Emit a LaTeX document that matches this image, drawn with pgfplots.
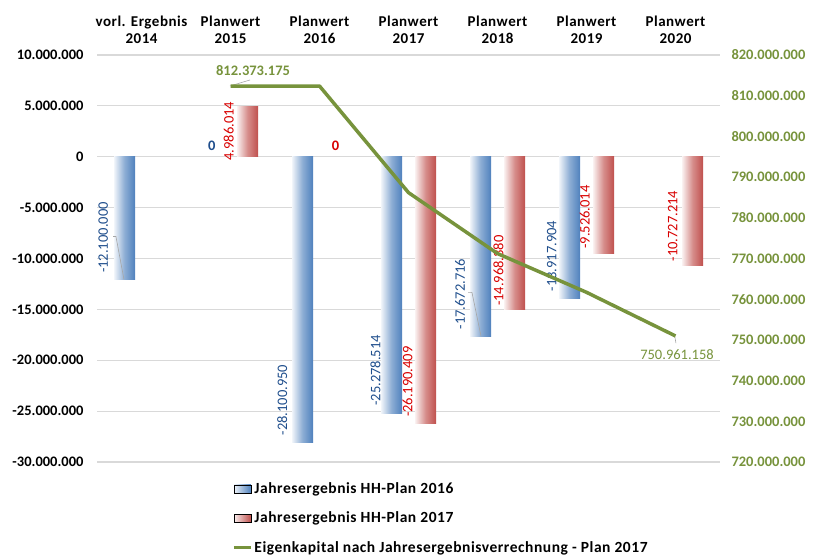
\documentclass[border=0pt]{standalone}
\usepackage{pgfplots}
\pgfplotsset{compat=1.18}
\usepackage{fontspec}
\setmainfont{Carlito}
\newfontfamily\wide[LetterSpace=3.5]{Carlito}
\definecolor{exblue}{HTML}{4F81BD}
\definecolor{exred}{HTML}{C0504D}
\definecolor{exgreen}{HTML}{77933C}
\definecolor{lblblue}{HTML}{1F4E8C}
\definecolor{lblred}{HTML}{D80000}
\definecolor{gridgray}{HTML}{D9D9D9}
\newcommand{\fs}{\fontsize{14.5}{16}\selectfont}
\pgfplotsset{
  bbar/.style={forget plot, ybar, bar width=21pt, bar shift=-17pt, draw=none,
    left color=exblue!8!white, right color=exblue, middle color=exblue!65!white},
  rbar/.style={forget plot, ybar, bar width=21pt, bar shift=17pt, draw=none,
    left color=exred!8!white, right color=exred, middle color=exred!65!white},
}
\begin{document}
\begin{tikzpicture}
\useasboundingbox (0,0) rectangle (813pt,556pt);
\begin{axis}[
  at={(97pt,94pt)}, anchor=south west,
  scale only axis, width=623pt, height=407pt,
  xmin=-0.5, xmax=6.5, ymin=-30000000, ymax=10000000,
  axis line style={draw=none},
  major tick length=0pt,
  scaled y ticks=false,
  xtick={0,1,2,3,4,5,6},
  xticklabels={vorl. Ergebnis\\2014, Planwert\\2015, Planwert\\2016, Planwert\\2017, Planwert\\2018, Planwert\\2019, Planwert\\2020},
  xticklabel pos=upper,
  xticklabel style={align=center, font=\wide\fontsize{15}{16.5}\selectfont\bfseries, yshift=8pt},
  ytick={-30000000,-25000000,-20000000,-15000000,-10000000,-5000000,0,5000000,10000000},
  yticklabels={-30.000.000,-25.000.000,-20.000.000,-15.000.000,-10.000.000,-5.000.000,0,5.000.000,10.000.000},
  yticklabel style={font=\fs\bfseries, xshift=-10pt},
  ymajorgrids, grid style={gridgray, line width=1.2pt},
  clip=false,
  legend style={at={(0.217,-0.045)}, anchor=north west, draw=none, fill=none,
    font=\wide\fontsize{15.5}{17}\selectfont\bfseries, row sep=13pt, inner sep=0pt},
  legend cell align=left,
]
\addlegendimage{legend image code/.code={\fill[left color=exblue!10!white, right color=exblue] (0pt,-4pt) rectangle (17pt,4pt);}}
\addlegendentry{Jahresergebnis HH-Plan 2016}
\addlegendimage{legend image code/.code={\fill[left color=exred!10!white, right color=exred] (0pt,-4pt) rectangle (17pt,4pt);}}
\addlegendentry{Jahresergebnis HH-Plan 2017}
\addlegendimage{line legend, exgreen, line width=3pt}
\addlegendentry{Eigenkapital nach Jahresergebnisverrechnung - Plan 2017}
% bars HH-Plan 2016
\addplot[bbar] coordinates {(0,-12100000)};
\addplot[bbar] coordinates {(2,-28100950)};
\addplot[bbar] coordinates {(3,-25278514)};
\addplot[bbar] coordinates {(4,-17672716)};
\addplot[bbar] coordinates {(5,-13917904)};
% bars HH-Plan 2017
\addplot[rbar] coordinates {(1,4986014)};
\addplot[rbar] coordinates {(3,-26190409)};
\addplot[rbar] coordinates {(4,-14968380)};
\addplot[rbar] coordinates {(5,-9526014)};
\addplot[rbar] coordinates {(6,-10727214)};
% leader lines
\addplot[forget plot, gray!70, line width=0.6pt] coordinates {(-0.320,-7840000) (-0.287,-7840000) (-0.197,-12060000)};
\addplot[forget plot, gray!70, line width=0.6pt] coordinates {(3.669,-13330000) (3.713,-13330000) (3.815,-17650000)};
% blue labels
\addplot[forget plot, draw=none, mark=none, point meta=explicit symbolic, nodes near coords,
  every node near coord/.append style={rotate=90, anchor=center, text=lblblue, font=\fs}]
  coordinates {(-0.43,-7940000) [-12.100.000] (1.58,-23900000) [-28.100.950] (2.63,-21000000) [-25.278.514] (3.58,-13500000) [-17.672.716] (4.61,-9750000) [-13.917.904]};
% red labels
\addplot[forget plot, draw=none, mark=none, point meta=explicit symbolic, nodes near coords,
  every node near coord/.append style={rotate=90, anchor=center, text=lblred, font=\fs}]
  coordinates {(0.98,2500000) [4.986.014] (2.99,-22100000) [-26.190.409] (4.01,-11200000) [-14.968.380] (4.98,-5930000) [-9.526.014] (5.97,-6800000) [-10.727.214]};
% zero labels
\addplot[forget plot, draw=none, mark=none, point meta=explicit symbolic, nodes near coords,
  every node near coord/.append style={anchor=center, text=lblblue, font=\fs\bfseries}]
  coordinates {(0.79,1100000) [0]};
\addplot[forget plot, draw=none, mark=none, point meta=explicit symbolic, nodes near coords,
  every node near coord/.append style={anchor=center, text=lblred, font=\fs\bfseries}]
  coordinates {(2.18,1100000) [0]};
\end{axis}
\begin{axis}[
  at={(97pt,94pt)}, anchor=south west,
  scale only axis, width=623pt, height=407pt,
  xmin=-0.5, xmax=6.5, ymin=720000000, ymax=820000000,
  axis y line*=right, axis x line=none,
  axis line style={draw=none}, major tick length=0pt,
  scaled y ticks=false,
  ytick={720000000,730000000,740000000,750000000,760000000,770000000,780000000,790000000,800000000,810000000,820000000},
  yticklabels={720.000.000,730.000.000,740.000.000,750.000.000,760.000.000,770.000.000,780.000.000,790.000.000,800.000.000,810.000.000,820.000.000},
  yticklabel style={font=\fs\bfseries, text=exgreen, xshift=8pt},
  clip=false,
]
\addplot[gray!70, line width=0.6pt] coordinates {(0.994,812380000) (1.219,813860000)};
\addplot[gray!70, line width=0.6pt] coordinates {(5.993,750700000) (6.005,749200000)};
\addplot[exgreen, line width=3.5pt, mark=none, line join=round]
  coordinates {(1,812373175) (2,812373175) (3,786182766) (4,771214386) (5,761688372) (6,750961158)};
\addplot[draw=none, mark=none, point meta=explicit symbolic, nodes near coords,
  every node near coord/.append style={anchor=center, text=exgreen, font=\fs\bfseries}]
  coordinates {(1.253,816100000) [812.373.175]};
\addplot[draw=none, mark=none, point meta=explicit symbolic, nodes near coords,
  every node near coord/.append style={anchor=center, text=exgreen, font=\fs}]
  coordinates {(6.017,746300000) [750.961.158]};
\end{axis}
\end{tikzpicture}
\end{document}
